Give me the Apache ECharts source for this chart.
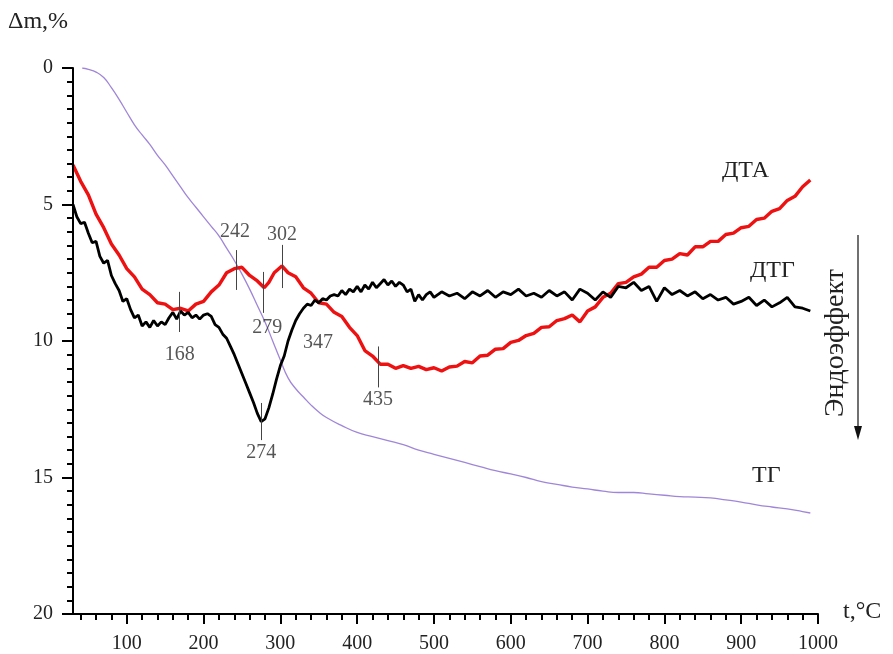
<!DOCTYPE html>
<html>
<head>
<meta charset="utf-8">
<script src="https://cdn.jsdelivr.net/npm/echarts@6/dist/echarts.min.js"></script>
<style>html,body{margin:0;padding:0;background:#fff}#c{width:893px;height:654px}</style>
</head>
<body>
<div id="c"></div>
<script>
// ---- data ----
const tgT = [42,50,60,70,80,90,100,110,120,130,140,150,160,170,180,190,200,210,220,230,240,250,260,270,280,290,300,310,320,330,340,350,360,380,400,420,440,460,480,500,520,540,560,580,600,620,640,660,680,700,720,740,760,780,800,820,840,860,880,900,920,940,960,980,990];
const tgV = [0,0.05,0.15,0.35,0.72,1.15,1.62,2.08,2.45,2.8,3.2,3.55,3.95,4.35,4.75,5.1,5.45,5.8,6.15,6.6,7.05,7.55,8.1,8.7,9.3,10.0,10.7,11.35,11.75,12.05,12.35,12.6,12.8,13.1,13.35,13.5,13.65,13.8,14.0,14.15,14.3,14.45,14.6,14.75,14.87,15.0,15.15,15.25,15.35,15.42,15.5,15.55,15.55,15.6,15.65,15.7,15.72,15.75,15.82,15.9,16.0,16.08,16.15,16.25,16.3];

const dtaT = [30,40,50,60,70,80,90,100,110,120,130,140,150,160,170,180,190,200,210,220,230,240,250,260,270,279,285,292,302,310,320,330,340,350,360,370,380,390,400,410,420,430,440,450,460,470,480,490,500,510,520,530,540,550,560,570,580,590,600,610,620,630,640,650,660,670,680,690,700,710,720,730,740,750,760,770,780,790,800,810,820,830,840,850,860,870,880,890,900,910,920,930,940,950,960,970,980,990];
const dtaV = [3.55,4.15,4.65,5.35,5.85,6.45,6.85,7.35,7.65,8.1,8.3,8.6,8.65,8.85,8.8,8.9,8.65,8.55,8.2,7.95,7.5,7.35,7.3,7.6,7.8,8.05,7.85,7.5,7.25,7.5,7.65,8.05,8.25,8.6,8.65,8.95,9.1,9.5,9.8,10.35,10.55,10.85,10.85,11.0,10.9,11.0,10.93,11.05,10.98,11.1,10.95,10.92,10.75,10.8,10.55,10.52,10.3,10.28,10.05,9.98,9.8,9.72,9.5,9.48,9.25,9.18,9.05,9.3,8.9,8.75,8.4,8.25,7.9,7.85,7.65,7.55,7.3,7.3,7.05,7.0,6.8,6.85,6.55,6.55,6.35,6.35,6.1,6.05,5.85,5.8,5.55,5.5,5.25,5.15,4.85,4.7,4.35,4.1];

const dtgT = [30,35,40,45,50,55,60,65,70,75,80,85,90,95,100,105,110,115,120,125,130,135,140,145,150,155,160,165,170,175,180,185,190,195,200,205,210,215,220,225,230,235,240,245,250,255,260,265,270,275,280,285,290,295,300,305,310,315,320,325,330,335,340,345,350,355,360,365,370,375,380,385,390,395,400,405,410,415,420,425,430,435,440,445,450,455,460,465,470,475,480,485,490,495,500,510,520,530,540,550,560,570,580,590,600,610,620,630,640,650,660,670,680,690,700,710,720,730,740,750,760,770,780,790,800,810,820,830,840,850,860,870,880,890,900,910,920,930,940,950,960,970,980,990];
const dtgV = [5.0,5.45,5.7,5.65,6.05,6.4,6.35,6.9,7.15,7.05,7.6,7.9,8.15,8.55,8.45,8.85,9.15,9.05,9.45,9.3,9.5,9.25,9.45,9.3,9.4,9.15,8.95,9.2,8.9,9.05,8.95,9.15,9.05,9.2,9.05,9.0,9.1,9.4,9.5,9.75,9.9,10.2,10.5,10.85,11.2,11.55,11.9,12.25,12.65,12.95,12.85,12.45,11.95,11.4,10.9,10.55,10.0,9.6,9.25,9.0,8.8,8.65,8.7,8.5,8.6,8.45,8.5,8.35,8.3,8.35,8.15,8.3,8.1,8.2,8.0,8.2,7.95,8.1,7.85,8.05,7.9,7.75,7.95,7.8,8.0,7.85,7.95,8.2,8.1,8.55,8.3,8.5,8.3,8.2,8.4,8.2,8.35,8.25,8.45,8.2,8.35,8.15,8.4,8.2,8.3,8.1,8.35,8.25,8.4,8.15,8.35,8.2,8.5,8.1,8.25,8.5,8.2,8.4,8.0,8.05,7.85,8.15,8.0,8.55,8.05,8.3,8.15,8.35,8.2,8.45,8.3,8.5,8.4,8.65,8.55,8.4,8.7,8.5,8.75,8.6,8.4,8.75,8.8,8.9];

// peak annotations
const annoTickX = [168, 243, 278, 302, 275, 427];
const annoTickTop = [8.2, 6.67, 7.47, 6.48, 12.27, 10.2];
const annoTickBottom = [9.67, 8.13, 8.97, 8.06, 13.63, 11.7];
const annoLabels = ['168', '242', '279', '302', '274', '347', '435'];
const annoLabelX = [169, 241, 283, 302, 275, 349, 427];
const annoLabelY = [10.5, 6.0, 9.5, 6.12, 14.1, 10.07, 12.15];

// axis ranges / tick labels
const xMin = 30, xMax = 1000;
const xMajorTicks = [100, 200, 300, 400, 500, 600, 700, 800, 900, 1000];
const xMinorMin = 40, xMinor = 20;
const yMin = 0, yMax = 20, yMajor = 5;

const FONT = "'Liberation Serif','Times New Roman',serif";
const zip = (a, b) => a.map((v, i) => [v, b[i]]);

// layout: main grid; a second overlaid grid carries the minor x ticks (starting at 40)
const W = 893, L = 73, R = 75, T = 68, B = 40;
const pxPerUnit = (W - L - R) / (xMax - xMin);
const L2 = L + (xMinorMin - xMin) * pxPerUnit;

const chart = echarts.init(document.getElementById('c'), null, {renderer: 'canvas'});
chart.setOption({
  animation: false,
  backgroundColor: '#fff',
  grid: [{left: L, right: R, top: T, bottom: B}, {left: L2, right: R, top: T, bottom: B}],
  xAxis: [{
    gridIndex: 0, type: 'value', min: xMin, max: xMax, position: 'bottom',
    axisLine: {show: true, onZero: false, lineStyle: {color: '#000', width: 2}},
    axisTick: {show: true, length: 10, customValues: xMajorTicks, lineStyle: {color: '#000', width: 2}},
    axisLabel: {customValues: xMajorTicks, margin: 20, color: '#222', fontSize: 20, fontFamily: FONT,
                formatter: v => String(v)},
    splitLine: {show: false}, z: 5
  }, {
    gridIndex: 1, type: 'value', min: xMinorMin, max: xMax, interval: xMinor, position: 'bottom',
    axisLine: {show: false, onZero: false},
    axisTick: {show: true, length: 6, lineStyle: {color: '#000', width: 2}},
    axisLabel: {show: false},
    splitLine: {show: false}, z: 5
  }],
  yAxis: [{
    gridIndex: 0, type: 'value', inverse: true, min: yMin, max: yMax, interval: yMajor,
    axisLine: {show: true, onZero: false, lineStyle: {color: '#000', width: 2}},
    axisTick: {show: true, length: 11, lineStyle: {color: '#000', width: 2}},
    minorTick: {show: true, splitNumber: 10, length: 6, lineStyle: {color: '#000', width: 2}},
    axisLabel: {margin: 20, color: '#222', fontSize: 20, fontFamily: FONT},
    splitLine: {show: false}, z: 5
  }, {
    gridIndex: 1, type: 'value', inverse: true, min: yMin, max: yMax, show: false
  }],
  series: [
    {type: 'line', name: 'ТГ', data: zip(tgT, tgV), showSymbol: false, smooth: true,
     lineStyle: {color: '#a086d8', width: 1.3}, z: 2},
    {type: 'line', name: 'ДТА', data: zip(dtaT, dtaV), showSymbol: false,
     lineStyle: {color: '#ee1111', width: 3.4}, z: 3},
    {type: 'line', name: 'ДТГ', data: zip(dtgT, dtgV), showSymbol: false,
     lineStyle: {color: '#000', width: 2.8}, z: 4,
     markLine: {
       silent: true, symbol: ['none', 'none'], label: {show: false},
       lineStyle: {color: '#444', width: 1, type: 'solid'},
       data: annoTickX.map((x, i) => [{coord: [x, annoTickTop[i]]}, {coord: [x, annoTickBottom[i]]}])
     }},
    {type: 'scatter', name: 'labels', symbolSize: 0, z: 5,
     data: annoLabels.map((t, i) => ({value: [annoLabelX[i], annoLabelY[i]], label: {formatter: t}})),
     label: {show: true, position: 'inside', color: '#2a2a2a', fontSize: 20, fontFamily: FONT}}
  ],
  graphic: [
    {type: 'text', left: 8, top: 10, style: {text: 'Δm,%', font: "24px " + FONT, fill: '#222'}},
    {type: 'text', left: 843, top: 600, style: {text: 't,°C', font: "24px " + FONT, fill: '#222'}},
    {type: 'text', left: 722, top: 159, style: {text: 'ДТА', font: "24px " + FONT, fill: '#222'}},
    {type: 'text', left: 750, top: 259, style: {text: 'ДТГ', font: "24px " + FONT, fill: '#222'}},
    {type: 'text', left: 752, top: 464, style: {text: 'ТГ', font: "24px " + FONT, fill: '#222'}},
    {type: 'text', x: 836, y: 343, rotation: Math.PI / 2,
     style: {text: 'Эндоэффект', font: "28px " + FONT, fill: '#222', align: 'center', verticalAlign: 'middle'}},
    {type: 'line', shape: {x1: 858, y1: 235, x2: 858, y2: 428}, style: {stroke: '#111', lineWidth: 1.2}},
    {type: 'polygon', shape: {points: [[854, 426], [862, 426], [858, 440]]}, style: {fill: '#111'}}
  ]
});
</script>
</body>
</html>
